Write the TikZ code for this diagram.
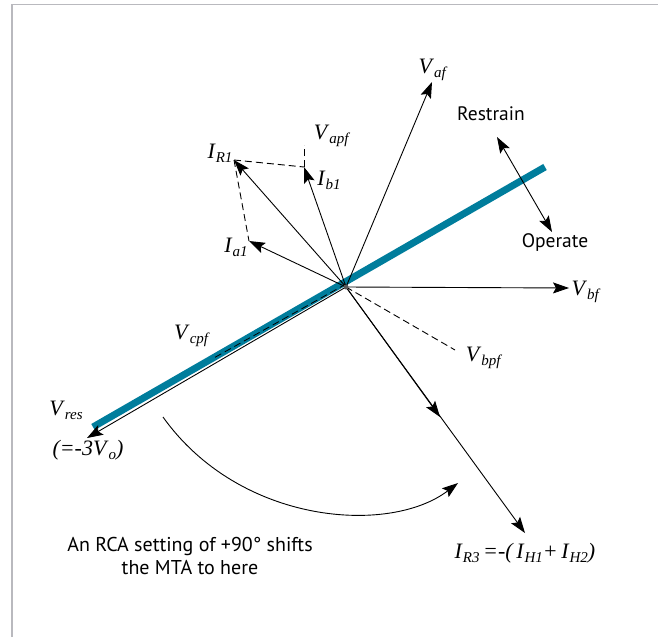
\documentclass[tikz,border=0pt]{standalone}
\usepackage{fontspec}
\setmainfont{Liberation Serif}
\newfontfamily\labsans{PT Sans}
\usetikzlibrary{arrows.meta,calc}
\definecolor{mtablue}{RGB}{0,125,156}
\definecolor{framegray}{RGB}{185,185,190}
\newcommand\lb[2]{\textit{#1}\raisebox{-0.4ex}{\fontsize{15}{15}\selectfont\textit{#2}}}
\tikzset{
  tip/.tip={Stealth[length=16pt,width=11pt,inset=3pt]},
  vec/.style={line width=0.9pt, -tip},
  dsh/.style={line width=0.9pt, dash pattern=on 7pt off 4pt},
  mlab/.style={font=\fontsize{22}{22}\selectfont, inner sep=0pt},
  slab/.style={font=\labsans\fontsize{19.5}{22}\selectfont, inner sep=0pt, align=center},
}
\begin{document}
\begin{tikzpicture}[x=1pt,y=-1pt]
\useasboundingbox (0,0) rectangle (658,637);
% frame
\draw[framegray, line width=1.3pt] (12,637) -- (12,4.5) -- (658,4.5);
% coordinates
\coordinate (O) at (346,287);
\coordinate (B1) at (93,427);
\coordinate (B2) at (545,167);
\coordinate (Taf) at (432,82);
\coordinate (Tb1) at (304,167);
\coordinate (Tapf) at (304,145);
\coordinate (TR1) at (234,160);
\coordinate (Ta1) at (249,241);
\coordinate (Tbf) at (569,288);
\coordinate (Tbpf) at (455,350);
\coordinate (TR3m) at (440,417);
\coordinate (TR3) at (525,533);
\coordinate (Tres) at (87,438);
\coordinate (Tcpf) at (212,362);
\coordinate (Rs) at (497,137);
\coordinate (Op) at (552,232);
\coordinate (A1) at (163,417);
\coordinate (A2) at (458,483);
% blue MTA line
\draw[mtablue, line width=7pt] (B1) -- (B2);
% Vres along lower edge
\draw[vec] (O) -- (Tres);
\draw[dsh, line width=0.8pt] ($(O)+(0,-3)$) -- ($(Tcpf)+(0,-3)$);
% vectors
\draw[vec] (O) -- (Taf);
\draw[vec] (O) -- (Tb1);
\draw[vec] (O) -- (TR1);
\draw[vec] (O) -- (Ta1);
\draw[vec] (O) -- (Tbf);
\draw[vec] (O) -- (TR3m);
\draw[vec] (O) -- (TR3);
\draw[dsh] (O) -- (Tbpf);
\draw[dsh] (Tb1) -- (Tapf);
\draw[dsh] (TR1) -- (Tb1);
\draw[dsh] (TR1) -- (Ta1);
\fill[gray!70!black] (O) circle (2.5pt);
% restrain/operate
\draw[line width=0.9pt, tip-tip] (Rs) -- (Op);
% arc
\draw[line width=0.9pt, -tip] (A1) .. controls (240,525) and (390,535) .. (A2);
% labels
\node[mlab] (lVaf) at (433,70) {\lb{V}{af}};
\node[mlab] (lVapf) at (332,136) {\lb{V}{apf}};
\node[mlab] (lIR1) at (220,153) {\lb{I}{R1}};
\node[mlab] (lIb1) at (329,180) {\lb{I}{b1}};
\node[mlab] (lIa1) at (236,247) {\lb{I}{a1}};
\node[mlab] (lVbf) at (586,292) {\lb{V}{bf}};
\node[mlab] (lVcpf) at (192,336) {\lb{V}{cpf}};
\node[mlab] (lVbpf) at (484,358) {\lb{V}{bpf}};
\node[mlab] (lVres) at (66,410) {\lb{V}{res}};
\node[mlab] (lV0) at (88,450) {\textit{(=-3}\lb{V}{o}\textit{)}};
\node[mlab] (lIR3) at (525,553) {\lb{I}{R3}\,\textit{=-(\,}\lb{I}{H1}\textit{+\,}\lb{I}{H2}\textit{)}};
\node[slab] (lRes) at (491,114) {Restrain};
\node[slab] (lOp) at (555,243) {Operate};
\node[slab, font=\labsans\fontsize{20}{23}\selectfont] (lRCA) at (190,556) {An RCA setting of +90° shifts\\the MTA to here};
\end{tikzpicture}
\end{document}
